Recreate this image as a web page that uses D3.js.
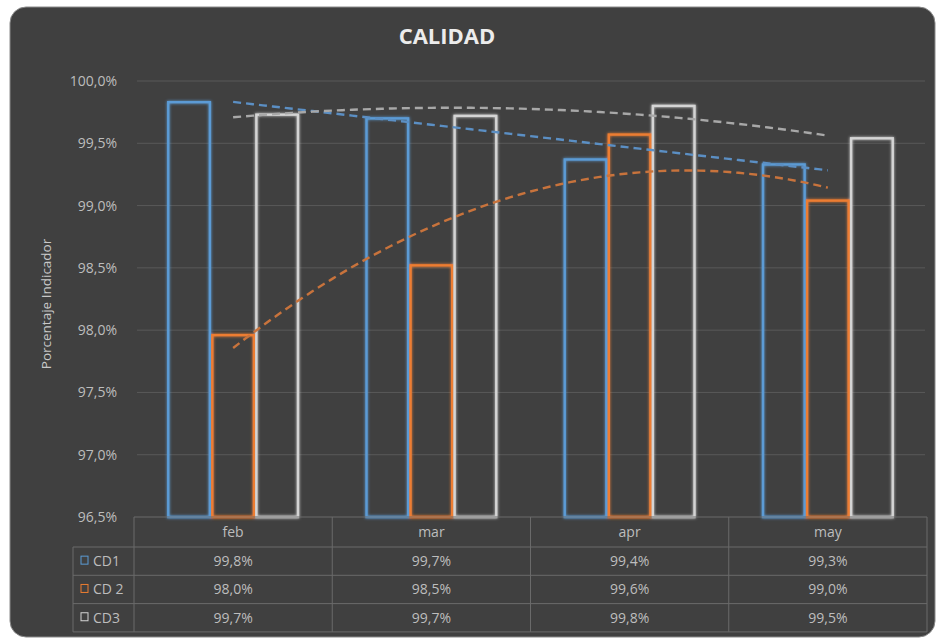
<!DOCTYPE html>
<html>
<head>
<meta charset="utf-8">
<script src="https://cdn.jsdelivr.net/npm/d3@7"></script>
<style>
  body { margin: 0; background: #ffffff; }
  svg { display: block; }
</style>
</head>
<body>
<svg id="chart" width="939" height="641"></svg>
<script>
// Data
const months = ['feb', 'mar', 'apr', 'may'];
const seriesNames = ['CD1', 'CD 2', 'CD3'];
const cd1 = [99.83, 99.70, 99.37, 99.33];
const cd2 = [97.96, 98.52, 99.57, 99.04];
const cd3 = [99.73, 99.72, 99.80, 99.54];
const tableCd1 = ['99,8%', '99,7%', '99,4%', '99,3%'];
const tableCd2 = ['98,0%', '98,5%', '99,6%', '99,0%'];
const tableCd3 = ['99,7%', '99,7%', '99,8%', '99,5%'];
const yTicks = [96.5, 97.0, 97.5, 98.0, 98.5, 99.0, 99.5, 100.0];

const colors = ['#5b9bd5', '#ed7d31', '#d4d4d4'];
const trendColors = ['#5b8fc4', '#c8733c', '#a8a8a8'];
const trendOrder = [1, 2, 2]; // linear for CD1, polynomial 2 for others

const values = [cd1, cd2, cd3];
const tableRows = [tableCd1, tableCd2, tableCd3];

// Layout
const plot = { left: 134, right: 927, top: 81, bottom: 517 };
const font = 'Open Sans, sans-serif';

let svg = d3.select('#chart');

// Panel background
svg.append('rect')
    .attr('x', 10).attr('y', 7)
    .attr('width', 925).attr('height', 630)
    .attr('rx', 16).attr('ry', 16)
    .attr('fill', '#404040')
    .attr('stroke', '#8a8a8a')
    .attr('stroke-width', 1);

// Scales
let y = d3.scaleLinear().domain([96.5, 100]).range([plot.bottom, plot.top]);
let x = d3.scaleBand().domain(months).range([plot.left, plot.right]);
let xs = d3.scaleBand().domain(seriesNames).range([0, x.bandwidth()]).paddingOuter(0.75);

// Title
svg.append('text')
    .attr('x', 447).attr('y', 44)
    .attr('text-anchor', 'middle')
    .attr('font-family', font)
    .attr('font-weight', 'bold')
    .attr('font-size', 22)
    .attr('fill', '#ececec')
    .text('CALIDAD');

// Gridlines
svg.append('g')
    .selectAll('line')
    .data(yTicks.slice(1))
    .enter()
    .append('line')
    .attr('x1', plot.left + 3).attr('x2', plot.right - 2)
    .attr('y1', (d) => y(d)).attr('y2', (d) => y(d))
    .attr('stroke', '#595959')
    .attr('stroke-width', 1);

// Y axis labels
let yAxis = d3.axisLeft(y)
    .tickValues(yTicks)
    .tickSize(0)
    .tickPadding(0)
    .tickFormat((d) => d3.format('.1f')(d).replace('.', ',') + '%');
let yg = svg.append('g')
    .attr('transform', 'translate(117,0)')
    .call(yAxis);
yg.select('.domain').remove();
yg.selectAll('text')
    .attr('font-family', font)
    .attr('font-size', 14)
    .attr('fill', '#bdbdbd');

// Y axis title
svg.append('text')
    .attr('transform', 'translate(51,304) rotate(-90)')
    .attr('text-anchor', 'middle')
    .attr('font-family', font)
    .attr('font-size', 13.5)
    .attr('fill', '#c8c8c8')
    .text('Porcentaje Indicador');

// Glow filter
let defs = svg.append('defs');
let glow = defs.append('filter').attr('id', 'glow')
    .attr('x', '-20%').attr('y', '-5%').attr('width', '140%').attr('height', '110%');
glow.append('feGaussianBlur').attr('stdDeviation', 1.6).attr('result', 'blur');
let merge = glow.append('feMerge');
merge.append('feMergeNode').attr('in', 'blur');
merge.append('feMergeNode').attr('in', 'SourceGraphic');

// Bars (outlined)
let bars = [];
values.forEach((vals, si) => {
    vals.forEach((v, mi) => {
        bars.push({ s: si, month: months[mi], value: v });
    });
});

svg.append('g')
    .attr('filter', 'url(#glow)')
    .selectAll('rect')
    .data(bars)
    .enter()
    .append('rect')
    .attr('x', (d) => x(d.month) + xs(seriesNames[d.s]) + 1.2)
    .attr('y', (d) => y(d.value))
    .attr('width', xs.bandwidth() - 2.4)
    .attr('height', (d) => y(96.5) - y(d.value))
    .attr('fill', 'none')
    .attr('stroke', (d) => colors[d.s])
    .attr('stroke-width', 2.4);

// Least squares polynomial fit
function polyFit(ys, order) {
    let n = ys.length;
    let m = order + 1;
    let A = [];
    for (let r = 0; r < m; r++) {
        A.push(new Array(m + 1).fill(0));
    }
    for (let i = 0; i < n; i++) {
        let xi = i + 1;
        for (let r = 0; r < m; r++) {
            for (let c = 0; c < m; c++) A[r][c] += Math.pow(xi, r + c);
            A[r][m] += ys[i] * Math.pow(xi, r);
        }
    }
    // Gaussian elimination
    for (let c = 0; c < m; c++) {
        let p = c;
        for (let r = c + 1; r < m; r++) if (Math.abs(A[r][c]) > Math.abs(A[p][c])) p = r;
        [A[c], A[p]] = [A[p], A[c]];
        for (let r = 0; r < m; r++) {
            if (r === c) continue;
            let f = A[r][c] / A[c][c];
            for (let k = c; k <= m; k++) A[r][k] -= f * A[c][k];
        }
    }
    return A.map((row, i) => row[m] / A[i][i]);
}

let xIndex = d3.scaleLinear()
    .domain([1, months.length])
    .range([x(months[0]) + x.bandwidth() / 2, x(months[months.length - 1]) + x.bandwidth() / 2]);

let line = d3.line().x((d) => xIndex(d[0])).y((d) => y(d[1]));

values.forEach((vals, si) => {
    let coef = polyFit(vals, trendOrder[si]);
    let pts = d3.range(1, months.length + 0.001, 0.05).map((t) => [
        t,
        coef.reduce((acc, c, k) => acc + c * Math.pow(t, k), 0),
    ]);
    svg.append('path')
        .attr('d', line(pts))
        .attr('fill', 'none')
        .attr('stroke', trendColors[si])
        .attr('stroke-width', 2.4)
        .attr('stroke-dasharray', '8,5');
});

// Data table
let table = svg.append('g')
    .attr('font-family', font)
    .attr('font-size', 14)
    .attr('fill', '#bdbdbd');

const rowTop = plot.bottom;
const headerH = 30;
const rowH = 28.3;
const legendLeft = 73;
const lineColor = '#6a6a6a';

// horizontal lines
table.append('line')
    .attr('x1', plot.left).attr('x2', plot.right)
    .attr('y1', rowTop).attr('y2', rowTop)
    .attr('stroke', lineColor);
for (let r = 0; r <= 3; r++) {
    let yy = rowTop + headerH + r * rowH;
    table.append('line')
        .attr('x1', legendLeft).attr('x2', plot.right)
        .attr('y1', yy).attr('y2', yy)
        .attr('stroke', lineColor);
}
// vertical lines
let edges = months.map((m) => x(m)).concat([plot.right]);
table.selectAll('.vline')
    .data(edges)
    .enter()
    .append('line')
    .attr('x1', (d) => d).attr('x2', (d) => d)
    .attr('y1', rowTop).attr('y2', rowTop + headerH + 3 * rowH)
    .attr('stroke', lineColor);
table.append('line')
    .attr('x1', legendLeft).attr('x2', legendLeft)
    .attr('y1', rowTop + headerH).attr('y2', rowTop + headerH + 3 * rowH)
    .attr('stroke', lineColor);

// header labels
table.selectAll('.hdr')
    .data(months)
    .enter()
    .append('text')
    .attr('x', (d) => x(d) + x.bandwidth() / 2)
    .attr('y', rowTop + headerH / 2 + 5)
    .attr('text-anchor', 'middle')
    .text((d) => d);

// rows
tableRows.forEach((row, ri) => {
    let cy = rowTop + headerH + ri * rowH + rowH / 2 + 5;
    table.append('rect')
        .attr('x', 81).attr('y', cy - 10)
        .attr('width', 7).attr('height', 8)
        .attr('fill', 'none')
        .attr('stroke', colors[ri])
        .attr('stroke-width', 1);
    table.append('text')
        .attr('x', 93).attr('y', cy)
        .text(seriesNames[ri]);
    row.forEach((t, mi) => {
        table.append('text')
            .attr('x', x(months[mi]) + x.bandwidth() / 2)
            .attr('y', cy)
            .attr('text-anchor', 'middle')
            .text(t);
    });
});
</script>
</body>
</html>
